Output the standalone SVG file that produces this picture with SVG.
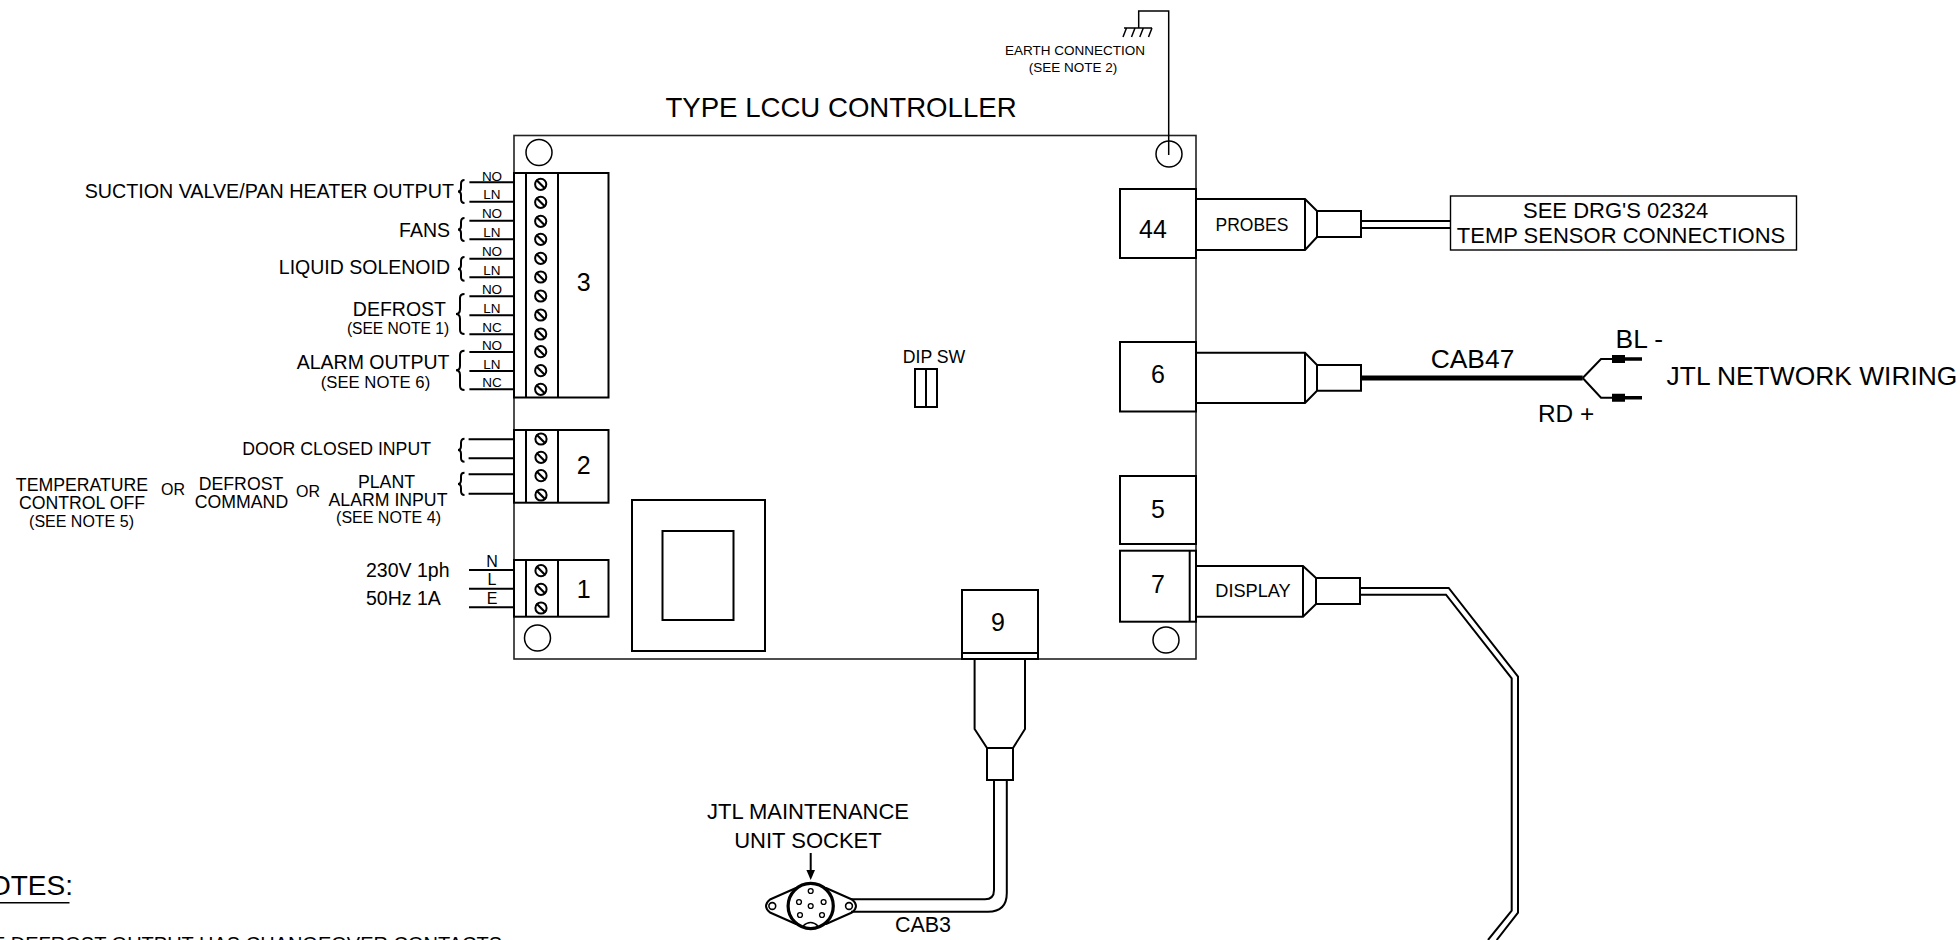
<svg xmlns="http://www.w3.org/2000/svg" width="1960" height="940" viewBox="0 0 1960 940">
<style>
text{font-family:"Liberation Sans",Arial,sans-serif;fill:#000}
.m{text-anchor:middle}.e{text-anchor:end}
.f14{font-size:13.5px}.f16{font-size:16px}.f17{font-size:16.7px}.f15{font-size:15.6px}.s{font-size:17.7px}.f19{font-size:19.5px}.f24{font-size:24.4px}.f25{font-size:25px}.f26{font-size:26.4px}.f22{font-size:22px}.f27{font-size:27.6px}.f28{font-size:28px}.f20{font-size:20px}
.l{fill:none;stroke:#000;stroke-width:2}
.t{fill:none;stroke:#000;stroke-width:1.500}
.b{fill:#fff;stroke:#000;stroke-width:2}
.w{fill:none;stroke:#000;stroke-width:2}
</style>
<defs>
<g id="screw"><circle r="5.6" fill="#fff" stroke="#000" stroke-width="2"/><line x1="-4.500" y1="-4.500" x2="4.500" y2="4.500" stroke="#000" stroke-width="2.200"/></g>
<circle id="pin" r="2.4" fill="#fff" stroke="#000" stroke-width="1.400"/>
</defs>
<rect width="1960" height="940" fill="#fff"/>
<g id="board">
<rect x="514" y="135.500" width="682" height="523.500" fill="#fff" stroke="#222" stroke-width="1.600"/>
<circle class="t" cx="539" cy="152.500" r="13"/>
<circle class="t" cx="1169" cy="154" r="13"/>
<circle class="t" cx="537.500" cy="638" r="13"/>
<circle class="t" cx="1166" cy="640" r="13"/>
<text class="m f27" x="841" y="117">TYPE LCCU CONTROLLER</text>
</g>
<g id="transformer">
<rect class="l" x="632" y="500" width="133" height="151"/>
<rect class="l" x="662.500" y="531" width="71" height="89"/>
</g>
<g id="dip-switch">
<text class="m s" x="934" y="363">DIP SW</text>
<rect class="l" x="915" y="369" width="22" height="38"/>
<line class="l" x1="926" y1="369" x2="926" y2="407"/>
</g>
<g id="terminal-3">
<rect class="l" x="514" y="173" width="94.500" height="224.500"/>
<line class="l" x1="526" y1="173" x2="526" y2="397.500"/>
<line class="l" x1="558" y1="173" x2="558" y2="397.500"/>
<use href="#screw" x="540.700" y="184.300"/><use href="#screw" x="540.700" y="202.300"/><use href="#screw" x="540.700" y="221.300"/><use href="#screw" x="540.700" y="239.300"/><use href="#screw" x="540.700" y="258.300"/><use href="#screw" x="540.700" y="277"/><use href="#screw" x="540.700" y="296"/><use href="#screw" x="540.700" y="315"/><use href="#screw" x="540.700" y="334"/><use href="#screw" x="540.700" y="351.700"/><use href="#screw" x="540.700" y="370.700"/><use href="#screw" x="540.700" y="389.300"/>
<text class="m f25" x="583.700" y="291">3</text>
</g>
<g id="terminal-2">
<rect class="l" x="514" y="430" width="94.500" height="72.700"/>
<line class="l" x1="526" y1="430" x2="526" y2="502.700"/>
<line class="l" x1="558" y1="430" x2="558" y2="502.700"/>
<use href="#screw" x="541" y="439"/><use href="#screw" x="541" y="457.300"/><use href="#screw" x="541" y="475.700"/><use href="#screw" x="541" y="495"/>
<text class="m f25" x="583.700" y="474">2</text>
</g>
<g id="terminal-1">
<rect class="l" x="514" y="560" width="94.500" height="56.700"/>
<line class="l" x1="526" y1="560" x2="526" y2="616.700"/>
<line class="l" x1="558" y1="560" x2="558" y2="616.700"/>
<use href="#screw" x="541" y="570.700"/><use href="#screw" x="541" y="589.300"/><use href="#screw" x="541" y="608"/>
<text class="m f25" x="583.700" y="598">1</text>
</g>
<g id="connector-44">
<rect class="l" x="1120" y="189" width="76" height="69"/>
<text class="m f25" x="1153" y="238">44</text>
<path class="l" d="M1196 199H1305L1317 211H1361V237H1317L1305 250H1196"/>
<line class="l" x1="1305" y1="199" x2="1305" y2="250"/><line class="l" x1="1317" y1="211" x2="1317" y2="237"/>
<text class="m" style="font-size:17.500px" x="1252" y="231">PROBES</text>
</g>
<g id="connector-6">
<rect class="l" x="1120" y="342" width="76" height="69.500"/>
<text class="m f25" x="1158" y="383">6</text>
<path class="l" d="M1196 352.700H1305L1317 365H1361V390.700H1317L1305 403H1196"/>
<line class="l" x1="1305" y1="352.700" x2="1305" y2="403"/><line class="l" x1="1317" y1="365" x2="1317" y2="390.700"/>
</g>
<g id="connector-5">
<rect class="l" x="1120" y="476" width="76" height="68"/>
<text class="m f25" x="1158" y="518">5</text>
</g>
<g id="connector-7">
<rect class="l" x="1120" y="550.700" width="76" height="71"/>
<line class="l" x1="1189.700" y1="550.700" x2="1189.700" y2="621.700"/>
<text class="m f25" x="1158" y="593">7</text>
<path class="l" d="M1196 566H1303L1316 578H1360V604H1316L1303 616.700H1196"/>
<line class="l" x1="1303" y1="566" x2="1303" y2="616.700"/><line class="l" x1="1316" y1="578" x2="1316" y2="604"/>
<text class="m" style="font-size:18.200px" x="1253" y="597">DISPLAY</text>
</g>
<g id="connector-9">
<rect class="l" x="962" y="590" width="76" height="69"/>
<line class="l" x1="962" y1="653" x2="1038" y2="653"/>
<text class="m f25" x="998" y="631">9</text>
<path class="l" d="M974.600 659V729L987 748V780H1013V748L1025 729V659"/>
<line class="l" x1="987" y1="748" x2="1013" y2="748"/>
</g>
<g id="temp-sensor-box">
<rect x="1450.500" y="196" width="346" height="54" fill="#fff" stroke="#000" stroke-width="1.400"/>
<text class="m f22" x="1615.600" y="217.700">SEE DRG'S 02324</text>
<text class="m f22" x="1621" y="242.700">TEMP SENSOR CONNECTIONS</text>
</g>
<g id="maintenance-socket">
<path class="b" stroke-linejoin="round" d="M796 888L770 899.500Q762 906 770 912.500L796 924H826L852 912.500Q860 906 852 899.500L826 888Z"/>
<circle cx="772.300" cy="906" r="3.400" fill="#fff" stroke="#000" stroke-width="1.600"/>
<circle cx="849" cy="906" r="3.400" fill="#fff" stroke="#000" stroke-width="1.600"/>
<circle cx="810.700" cy="906" r="22.600" fill="#fff" stroke="#000" stroke-width="3.200"/>
<path d="M803 926Q810.700 919 818 926" fill="none" stroke="#000" stroke-width="1.600"/>
<use href="#pin" x="810.700" y="891"/><use href="#pin" x="799" y="902"/><use href="#pin" x="823.600" y="902"/><use href="#pin" x="810.700" y="906"/><use href="#pin" x="800" y="915"/><use href="#pin" x="822" y="915"/>
<text class="m f22" x="808" y="819">JTL MAINTENANCE</text>
<text class="m f22" x="808" y="847.700">UNIT SOCKET</text>
</g>
<g id="earth">
<path class="t" d="M1138.700 28V11H1168.700V155"/>
<path class="t" d="M1124 28H1152M1126.500 28L1123 37M1135 28L1131.500 37M1143.300 28L1139.800 37M1152 28L1148.500 37"/>
<text class="m f14" x="1075" y="55">EARTH CONNECTION</text>
<text class="m f14" x="1073" y="71.500">(SEE NOTE 2)</text>
</g>
<g id="connectors">
<path class="w" d="M1361 221H1450M1361 228H1450"/>
<path d="M1361 378H1582.700" fill="none" stroke="#000" stroke-width="5"/>
<path class="w" d="M1582.700 378L1601 359H1612M1582.700 378L1601 397.700H1612"/>
<path d="M1612 359H1625M1612 397.700H1625" stroke="#000" stroke-width="8" fill="none"/>
<path d="M1625 359H1642M1625 397.700H1642" stroke="#000" stroke-width="3.600" fill="none"/>
<path class="w" d="M1360 588H1448.700L1518 676.700V912.700L1496.700 940M1360 594.700H1446L1511.700 678.300V910.700L1488 940"/>
<path class="w" d="M994 780V890Q994 899.300 985 899.300H851M1006.800 780V893Q1006.800 911.700 988 911.700H851"/>
<path class="l" d="M810.700 853V872"/>
<path d="M806.400 870H815L810.700 880Z" fill="#000"/>
<path class="l" d="M469.400 182.300H514M469.400 201.700H514M469.400 220.700H514M469.400 239.300H514M469.400 258.700H514M469.400 277.300H514M469.400 296.300H514M469.400 315.300H514M469.400 334.300H514M469.400 352H514M469.400 371H514M469.400 389.300H514"/>
<path class="l" d="M468.600 439.300H514M468.600 458.300H514M468.600 474.300H514M468.600 493.700H514"/>
<path class="l" d="M469 570H514M469 588.700H514M469 607.300H514"/>
<path class="w" d="M464.500 180Q461 180 461 184V188Q461 191.500 458 191.500Q461 191.500 461 195V199Q461 203 464.500 203"/>
<path class="w" d="M464.500 218Q461 218 461 222V226Q461 229.500 458 229.500Q461 229.500 461 233V237Q461 241 464.500 241"/>
<path class="w" d="M464.500 257Q461 257 461 261V265Q461 269 458 269Q461 269 461 273V277Q461 280.700 464.500 280.700"/>
<path class="w" d="M464.500 294Q460 294 460 298V309Q460 314 456 314Q460 314 460 319V330Q460 334 464.500 334"/>
<path class="w" d="M464.500 350.700Q460 350.700 460 355V366Q460 370.300 456 370.300Q460 370.300 460 375V386Q460 390 464.500 390"/>
<path class="w" d="M464.500 438.700Q461 438.700 461 443V446Q461 450 458 450Q461 450 461 454V458Q461 461.700 464.500 461.700"/>
<path class="w" d="M464.500 472.700Q461 472.700 461 476V480Q461 484 458 484Q461 484 461 488V491Q461 495 464.500 495"/>
</g>
<g id="labels">
<g class="f14">
<text class="m" x="492" y="180.700">NO</text><text class="m" x="492" y="199.300">LN</text>
<text class="m" x="492" y="218">NO</text><text class="m" x="492" y="237">LN</text>
<text class="m" x="492" y="256">NO</text><text class="m" x="492" y="275">LN</text>
<text class="m" x="492" y="294">NO</text><text class="m" x="492" y="313">LN</text><text class="m" x="492" y="332">NC</text>
<text class="m" x="492" y="350">NO</text><text class="m" x="492" y="368.700">LN</text><text class="m" x="492" y="387">NC</text>
</g>
<text class="e" style="font-size:19.700px" x="454" y="198.300">SUCTION VALVE/PAN HEATER OUTPUT</text>
<text class="e f19" x="450" y="236.700">FANS</text>
<text class="e f19" x="450" y="274.300">LIQUID SOLENOID</text>
<text class="m f19" x="399.400" y="316">DEFROST</text>
<text class="m f15" x="398" y="333.700">(SEE NOTE 1)</text>
<text class="e f19" x="449.500" y="369">ALARM OUTPUT</text>
<text class="m f17" x="375.500" y="388">(SEE NOTE 6)</text>
<text class="e s" x="431" y="455">DOOR CLOSED INPUT</text>
<text class="m s" x="386.500" y="487.700">PLANT</text>
<text class="m s" x="388" y="505.700">ALARM INPUT</text>
<text class="m f16" x="388.500" y="523.300">(SEE NOTE 4)</text>
<text class="m f16" x="308" y="496.700">OR</text>
<text class="m f16" x="173" y="495">OR</text>
<text class="m s" x="241" y="490">DEFROST</text>
<text class="m s" x="241.500" y="507.700">COMMAND</text>
<text class="m s" x="82" y="490.700">TEMPERATURE</text>
<text class="m s" x="82" y="509.300">CONTROL OFF</text>
<text class="m f16" x="81.500" y="526.700">(SEE NOTE 5)</text>
<text class="m f16" x="492" y="566.700">N</text><text class="m f16" x="492" y="585.300">L</text><text class="m f16" x="492" y="604">E</text>
<text class="f19" x="366" y="577.300">230V 1ph</text>
<text class="f19" x="366" y="605">50Hz 1A</text>
<text class="m f26" x="1472.500" y="368">CAB47</text>
<text class="f26" x="1615.600" y="348">BL -</text>
<text class="f24" x="1538" y="421.700">RD +</text>
<text class="f26" x="1666.600" y="385">JTL NETWORK WIRING</text>
<text class="m" style="font-size:21.500px" x="923" y="932">CAB3</text>
</g>
<g id="notes">
<text class="e f28" x="73" y="895">NOTES:</text>
<line x1="0" y1="902.700" x2="69.500" y2="902.700" stroke="#000" stroke-width="1.500"/>
<text class="e f20" x="502" y="951">THE DEFROST OUTPUT HAS CHANGEOVER CONTACTS</text>
</g>
</svg>
